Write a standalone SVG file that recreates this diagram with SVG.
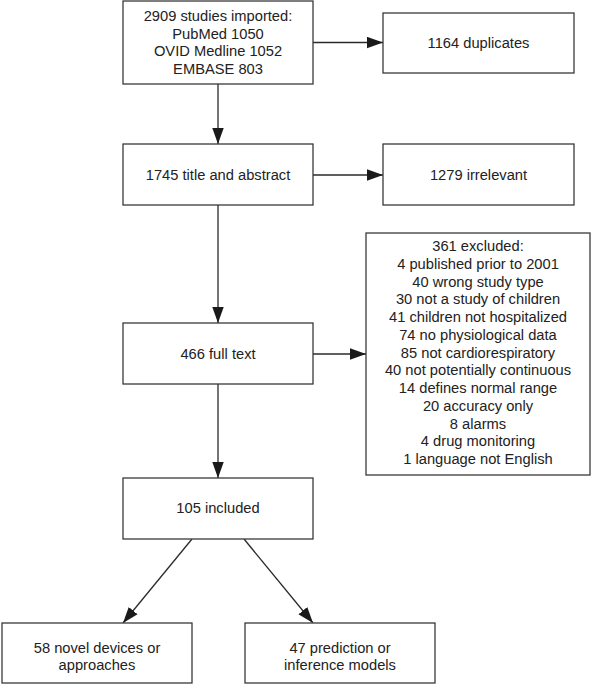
<svg xmlns="http://www.w3.org/2000/svg" width="592" height="685" viewBox="0 0 592 685">
<style>
rect{fill:#fff;stroke:#3a3a3a;stroke-width:1.3}
text{font-family:"Liberation Sans",Arial,sans-serif;font-size:14.7px;fill:#222;text-anchor:middle}
.c{stroke:#2a2a2a;stroke-width:1.3;fill:none;marker-end:url(#ah)}
</style>
<defs>
<marker id="ah" markerUnits="userSpaceOnUse" markerWidth="16" markerHeight="12" viewBox="0 0 14 10" refX="14" refY="5" orient="auto">
<path d="M0,0 L14,5 L0,10 Z" fill="#1a1a1a"/>
</marker>
</defs>
<rect x="0" y="0" width="592" height="685" style="fill:#fff;stroke:none"/>
<g id="connectors">
<path class="c" d="M313,42.5 H383"/>
<path class="c" d="M218,84 V144"/>
<path class="c" d="M313,175 H383"/>
<path class="c" d="M218,205 V323"/>
<path class="c" d="M313,354 H366"/>
<path class="c" d="M218,384 V478"/>
<path class="c" d="M192,539 L123,623"/>
<path class="c" d="M244,539 L313,623"/>
</g>
<g id="n1">
<rect x="123" y="1" width="190" height="83"/>
<text x="218" y="20.7">2909 studies imported:</text>
<text x="218" y="38.5">PubMed 1050</text>
<text x="218" y="56.3">OVID Medline 1052</text>
<text x="218" y="74">EMBASE 803</text>
</g>
<g id="n2">
<rect x="383" y="13" width="191" height="60"/>
<text x="478.5" y="48">1164 duplicates</text>
</g>
<g id="n3">
<rect x="123" y="144" width="190" height="61"/>
<text x="218" y="180">1745 title and abstract</text>
</g>
<g id="n4">
<rect x="383" y="144" width="191" height="61"/>
<text x="478.5" y="180">1279 irrelevant</text>
</g>
<g id="n5">
<rect x="123" y="323" width="190" height="61"/>
<text x="218" y="359">466 full text</text>
</g>
<g id="n6">
<rect x="366" y="233" width="224" height="242"/>
<text x="478" y="251">361 excluded:</text>
<text x="478" y="268.75">4 published prior to 2001</text>
<text x="478" y="286.5">40 wrong study type</text>
<text x="478" y="304.25">30 not a study of children</text>
<text x="478" y="322">41 children not hospitalized</text>
<text x="478" y="339.75">74 no physiological data</text>
<text x="478" y="357.5">85 not cardiorespiratory</text>
<text x="478" y="375.25">40 not potentially continuous</text>
<text x="478" y="393">14 defines normal range</text>
<text x="478" y="410.75">20 accuracy only</text>
<text x="478" y="428.5">8 alarms</text>
<text x="478" y="446.25">4 drug monitoring</text>
<text x="478" y="464">1 language not English</text>
</g>
<g id="n7">
<rect x="123" y="478" width="190" height="61"/>
<text x="218" y="513">105 included</text>
</g>
<g id="n8">
<rect x="2" y="623" width="190" height="60"/>
<text x="97" y="653">58 novel devices or</text>
<text x="97" y="670">approaches</text>
</g>
<g id="n9">
<rect x="245" y="623" width="190" height="60"/>
<text x="340" y="653">47 prediction or</text>
<text x="340" y="670">inference models</text>
</g>
</svg>
